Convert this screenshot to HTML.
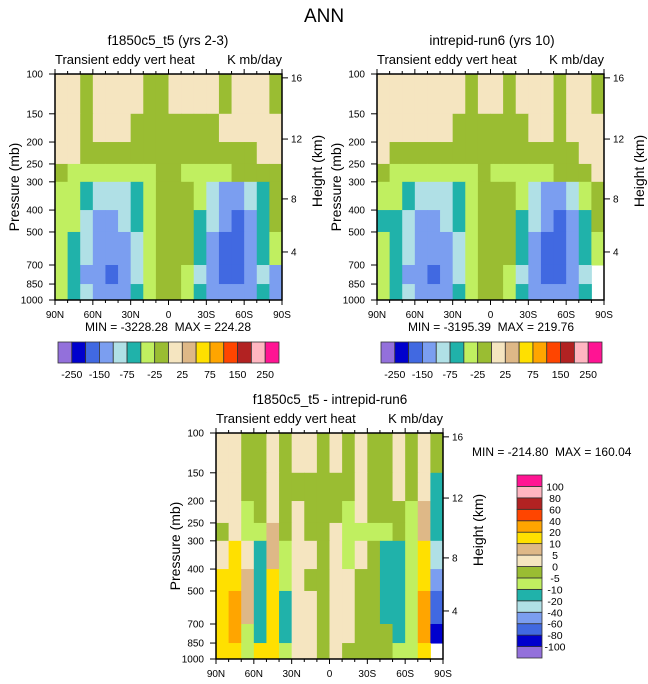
<!DOCTYPE html>
<html><head><meta charset="utf-8"><style>
html,body{margin:0;padding:0;background:#fff;}
svg{display:block;font-family:"Liberation Sans",Arial,sans-serif;}
text{white-space:pre;}
</style></head><body>
<svg id="fig" width="648" height="684" viewBox="0 0 648 684">
<text x="324" y="22" font-size="19" text-anchor="middle">ANN</text>
</svg>
<script>
// ---- data ----
const latEdges = [90,80,70,60,50,40,30,20,10,0,-10,-20,-30,-40,-50,-60,-70,-80,-90];
const presEdges = [100,150,200,250,300,400,500,700,850,1000];
const topLevels = [-250,-200,-150,-100,-75,-50,-25,0,25,50,75,100,150,200,250];
const diffLevels = [-100,-80,-60,-40,-20,-10,-5,0,5,10,20,40,60,80,100];
const colors = ["#9370db","#0000cd","#4169e1","#7b9ef0","#b0e0e6","#20b2aa","#c0ef60","#9abd32","#f5e5c0","#deb887","#ffe000","#ffa500","#ff4500","#b22222","#ffb6c1","#ff1493"];
const topLabels = ["-250","-150","-75","-25","25","75","150","250"];
const diffLabels = ["-100","-80","-60","-40","-20","-10","-5","0","5","10","20","40","60","80","100"];
const xTickLabels = ["90N","60N","30N","0","30S","60S","90S"];
const xTickLats = [90,60,30,0,-30,-60,-90];
const pTickLabels = [100,150,200,250,300,400,500,700,850,1000];
const kmLabels = [16,12,8,4];
const kmPres = [104,194,357,613];

const leftValues = [
[10,10,-10,10,10,10,10,-10,-10,10,10,10,10,-10,10,10,10,-10],
[10,10,-10,10,10,10,-10,-10,-10,-10,-10,-10,-10,10,10,10,10,10],
[10,10,-10,-10,-10,-10,-10,-10,-10,-10,-10,-10,-10,-10,-10,-10,10,10],
[-10,-35,-35,-35,-35,-35,-35,-35,-10,-10,-35,-35,-35,-35,-10,-10,-10,-10],
[-35,-35,-60,-90,-90,-90,-60,-35,-10,-10,-10,-35,-90,-125,-125,-90,-60,-10],
[-35,-35,-90,-125,-125,-90,-60,-35,-10,-10,-10,-60,-90,-125,-175,-125,-60,-10],
[-35,-60,-90,-125,-125,-125,-90,-35,-10,-10,-10,-60,-125,-175,-175,-125,-60,-35],
[-35,-60,-125,-125,-175,-125,-90,-35,-10,-10,-35,-90,-125,-175,-175,-125,-90,-125],
[-35,-60,-90,-125,-125,-125,-60,-35,-10,-10,-35,-60,-125,-125,-125,-125,-60,-125]];
const rightValues = [
[10,10,10,10,10,10,10,-10,10,10,-10,10,10,10,-10,10,10,-10],
[10,10,10,10,10,10,-10,-10,-10,-10,-10,-10,10,10,-10,10,10,10],
[10,-10,-10,-10,-10,-10,-10,-10,-10,-10,-10,-10,-10,-10,-10,-10,10,10],
[-10,-35,-35,-35,-35,-35,-35,-35,-10,-35,-35,-35,-35,-35,-10,-10,-10,10],
[-35,-35,-60,-90,-90,-90,-60,-35,-10,-10,-10,-35,-90,-125,-125,-90,-35,-10],
[-60,-60,-90,-125,-125,-90,-60,-35,-10,-10,-10,-60,-90,-125,-175,-125,-60,-10],
[-35,-60,-90,-125,-125,-125,-90,-35,-10,-10,-10,-60,-125,-175,-175,-125,-60,-35],
[-35,-60,-125,-125,-175,-125,-90,-35,-10,-10,-35,-90,-125,-175,-175,-125,-90,null],
[-35,-60,-90,-125,-125,-125,-60,-35,-10,-10,-35,-60,-125,-125,-125,-125,-60,null]];
const diffValues = [
[2,2,-2,-2,2,-2,2,2,-2,2,-2,2,-2,-2,2,-2,2,-2],
[2,2,-2,-2,2,-2,-2,-2,-2,-2,-2,2,-2,-2,2,-2,2,-15],
[2,2,-7,-2,2,-2,2,-2,-2,-2,-7,2,-2,-2,-2,-7,7,-15],
[-2,2,-7,-7,7,-2,2,-2,-2,2,-7,-7,-7,-7,-2,-7,7,-15],
[2,15,2,-15,7,-7,2,2,-2,2,-7,2,-2,-15,-15,-7,15,-30],
[15,15,7,-15,15,-7,2,-2,-2,2,2,-2,-2,-15,-15,-7,15,-50],
[15,30,7,-15,15,-15,2,2,-2,2,2,-2,-2,-15,-15,-7,30,-70],
[15,30,-7,-15,15,-15,2,2,-2,2,2,-2,-2,-2,-15,-7,30,-100],
[15,15,-7,15,15,-7,2,2,-2,2,-2,-2,-2,-2,-7,-7,15,null]];

// ---- drawing ----
const NS="http://www.w3.org/2000/svg";
const fig=document.getElementById('fig');
function mk(tag,attrs,parent,txt){const e=document.createElementNS(NS,tag);for(const k in attrs)e.setAttribute(k,attrs[k]);if(txt!==undefined)e.textContent=txt;(parent||fig).appendChild(e);return e;}
function colorFor(v,levels){let i=0;while(i<levels.length&&v>=levels[i])i++;return colors[i];}

function panel(name,x0,y0,w,h,values,levels,title,titleX){
  const g=mk('g',{});
  
  
  const xs=lat=>x0+(90-lat)/180*w;
  const ys=p=>y0+(Math.log10(p)-2)*h;
  const t=mk('text',{x:titleX,y:y0-29,'font-size':13.5,'text-anchor':'middle'},g,title);
  
  
  const l=mk('text',{x:x0,y:y0-10,'font-size':13},g,'Transient eddy vert heat');
  
  
  const u=mk('text',{x:x0+w,y:y0-10,'font-size':13,'text-anchor':'end'},g,'K mb/day');
  
  
  for(let r=0;r<values.length;r++)for(let c=0;c<values[r].length;c++){
    const v=values[r][c]; if(v===null)continue;
    const xa=xs(latEdges[c]),xb=xs(latEdges[c+1]),ya=ys(presEdges[r]),yb=ys(presEdges[r+1]);
    const cell=mk('rect',{x:xa,y:ya,width:xb-xa+0.5,height:yb-ya+0.5,fill:colorFor(v,levels)},g);
    
    
  }
  const fr=mk('rect',{x:x0,y:y0,width:w,height:h,fill:'none',stroke:'#000','stroke-width':1.5},g);
  
  
  for(let lat=90;lat>=-90;lat-=10){
    const x=xs(lat),len=(lat%30===0)?5:3;
    mk('line',{x1:x,x2:x,y1:y0,y2:y0-len,stroke:'#000'},g);
    mk('line',{x1:x,x2:x,y1:y0+h,y2:y0+h+len,stroke:'#000'},g);
  }
  xTickLabels.forEach((s,i)=>{const e=mk('text',{x:xs(xTickLats[i]),y:y0+h+18,'font-size':10,'text-anchor':'middle'},g,s);
    
    });
  pTickLabels.forEach(p=>{const y=ys(p);mk('line',{x1:x0,x2:x0-6,y1:y,y2:y,stroke:'#000'},g);
    const e=mk('text',{x:x0-12,y:y+3.5,'font-size':10,'text-anchor':'end'},g,String(p));
    
    });
  kmLabels.forEach((k,i)=>{const y=ys(kmPres[i]);mk('line',{x1:x0+w,x2:x0+w+6,y1:y,y2:y,stroke:'#000'},g);
    const e=mk('text',{x:x0+w+9,y:y+3.5,'font-size':10},g,String(k));
    
    });
  const yt=mk('text',{x:0,y:0,'font-size':14,'text-anchor':'middle',transform:`translate(${x0-36},${y0+h/2}) rotate(-90)`},g,'Pressure (mb)');
  
  
  const ht=mk('text',{x:0,y:0,'font-size':14,'text-anchor':'middle',transform:`translate(${x0+w+40},${y0+h/2-16}) rotate(-90)`},g,'Height (km)');
  
  
}
panel('panel-f1850c5',55,74,227,226,leftValues,topLevels,'f1850c5_t5 (yrs 2-3)',168);
panel('panel-intrepid',377,74,227,226,rightValues,topLevels,'intrepid-run6 (yrs 10)',492);
panel('panel-difference',216,433,227,226,diffValues,diffLevels,'f1850c5_t5 - intrepid-run6',330);

function stat(x,y,s,anchor){const e=mk('text',{x:x,y:y,'font-size':12,'text-anchor':anchor},fig,s);
  
  }
stat(168,331,'MIN = -3228.28  MAX = 224.28','middle');
stat(491,331,'MIN = -3195.39  MAX = 219.76','middle');
stat(472,456,'MIN = -214.80  MAX = 160.04','start');

function hbar(x0,y0,w,h){
  const g=mk('g',{});
  
  
  const bw=w/colors.length;
  colors.forEach((c,i)=>{const r=mk('rect',{x:x0+i*bw,y:y0,width:bw,height:h,fill:c,stroke:'#333','stroke-width':0.8},g);
    
    });
  topLabels.forEach((s,i)=>{const e=mk('text',{x:x0+(2*i+1)*bw,y:y0+h+15,'font-size':10.5,'text-anchor':'middle'},g,s);
    
    });
}
hbar(58,342,221,21);
hbar(381,342,221,21);
(function(){
  const x0=517,y0=475,w=25,h=183;
  const g=mk('g',{});
  
  
  const bh=h/colors.length;
  colors.forEach((c,i)=>{const r=mk('rect',{x:x0,y:y0+h-(i+1)*bh,width:w,height:bh,fill:c,stroke:'#333','stroke-width':0.8},g);
    
    });
  diffLabels.forEach((s,i)=>{const e=mk('text',{x:555,y:y0+h-(i+1)*bh+4,'font-size':10.5,'text-anchor':'middle'},g,s);
    
    });
})();
</script>
</body></html>
